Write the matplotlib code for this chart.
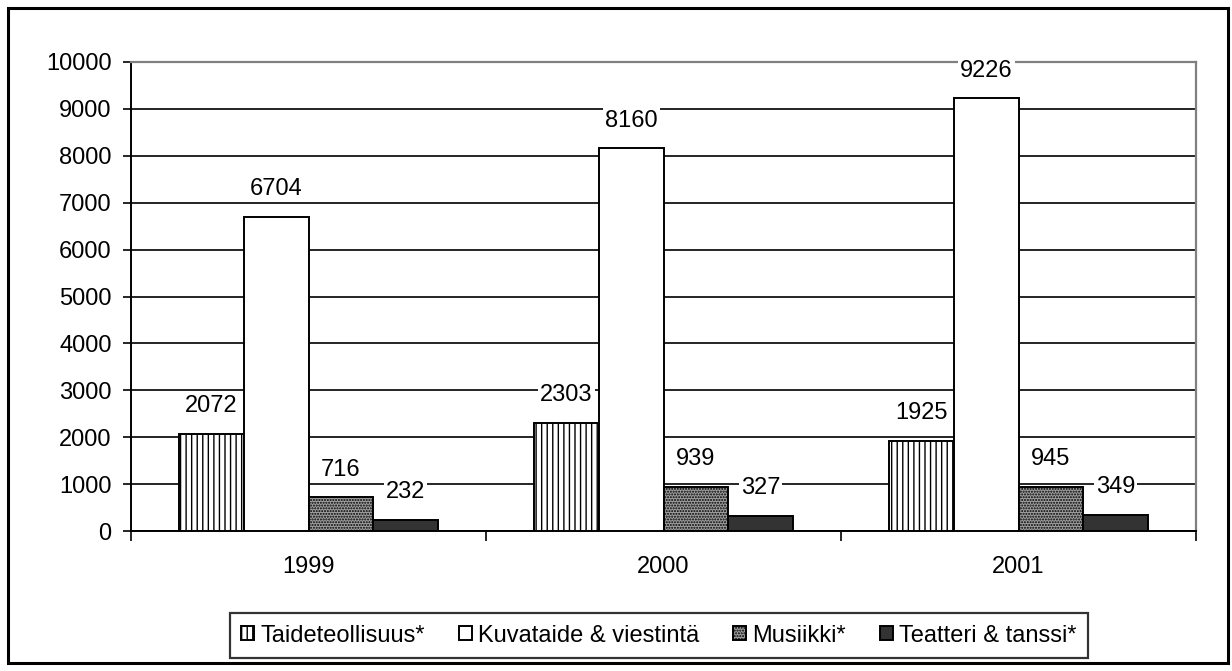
import matplotlib
matplotlib.use("Agg")
import matplotlib.pyplot as plt
from matplotlib.patches import Rectangle
import numpy as np

years = ["1999", "2000", "2001"]
series_names = ["Taideteollisuus*", "Kuvataide & viestintä", "Musiikki*", "Teatteri & tanssi*"]
taideteollisuus = [2072, 2303, 1925]
kuvataide = [6704, 8160, 9226]
musiikki = [716, 939, 945]
teatteri = [232, 327, 349]
yticks = [0, 1000, 2000, 3000, 4000, 5000, 6000, 7000, 8000, 9000, 10000]

plt.rcParams['font.family'] = ['Liberation Sans', 'DejaVu Sans']
plt.rcParams['hatch.linewidth'] = 1.0

W, H = 1232, 671
FS = 17
fig = plt.figure(figsize=(W / 100, H / 100), dpi=100)
fig.patch.set_facecolor('white')
fig.patches.append(Rectangle((8 / W, 8 / H), 1220 / W, 655 / H, transform=fig.transFigure,
                             fill=False, edgecolor='black', linewidth=2.2, zorder=0))

ax = fig.add_axes([131 / W, 1 - 531 / H, (1196 - 131) / W, (531 - 62) / H])

series = [taideteollisuus, kuvataide, musiikki, teatteri]
styles = [
    dict(facecolor='white', hatch='|||'),
    dict(facecolor='white', hatch=None),
    dict(facecolor='#a0a0a0', hatch='......'),
    dict(facecolor='#333333', hatch=None),
]
bw = 0.182
x = np.arange(len(years))
for i, (vals, st) in enumerate(zip(series, styles)):
    pos = x + (i - 1.5) * bw
    bars = ax.bar(pos, vals, width=bw, edgecolor='black', linewidth=1.4,
                  facecolor=st['facecolor'], hatch=st['hatch'], label=series_names[i], zorder=3)
    for b, v in zip(bars, vals):
        ax.annotate(str(v), (b.get_x() + b.get_width() / 2, v), xytext=(0, 20),
                    textcoords='offset points', ha='center', va='center', fontsize=FS,
                    bbox=dict(facecolor='white', edgecolor='none', pad=1.5), zorder=5)

ax.set_xlim(-0.5, 2.5)
ax.set_ylim(0, 10000)
ax.set_yticks(yticks)
ax.set_yticklabels([str(t) for t in yticks], fontsize=FS)
ax.yaxis.grid(True, color='black', linewidth=1.2, zorder=1)
ax.set_axisbelow(True)
ax.tick_params(axis='y', direction='out', length=6, width=1.2, pad=8)

ax.set_xticks(x)
ax.set_xticklabels(years, fontsize=FS)
ax.tick_params(axis='x', which='major', length=0, pad=18)
ax.set_xticks([-0.5, 0.5, 1.5, 2.5], minor=True)
ax.tick_params(axis='x', which='minor', direction='out', length=7, width=1.2)

for s in ['left', 'bottom']:
    ax.spines[s].set_color('black')
    ax.spines[s].set_linewidth(1.4)
for s in ['top', 'right']:
    ax.spines[s].set_color('#808080')
    ax.spines[s].set_linewidth(1.6)

leg = fig.legend(loc='center', bbox_to_anchor=(659 / W, 1 - 635.5 / H), ncol=4, fontsize=FS,
                 frameon=True, fancybox=False, edgecolor='black', handlelength=0.55,
                 handleheight=0.55, handletextpad=0.25, columnspacing=1.45, borderpad=0.5)
leg.get_frame().set_linewidth(1.6)

fig.savefig('out.png', dpi=100)
